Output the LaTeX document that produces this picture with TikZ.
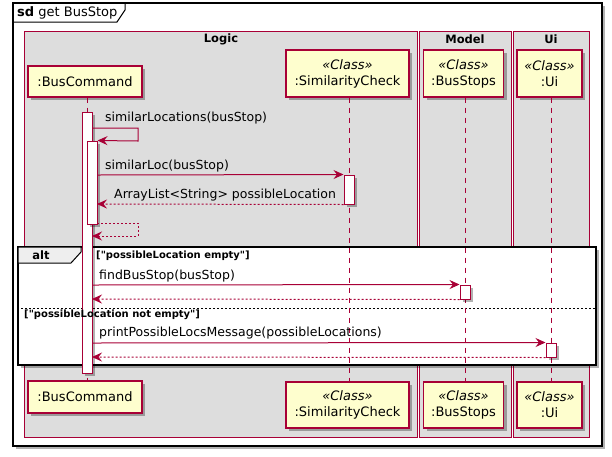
\documentclass[tikz,border=0pt]{standalone}
\usepackage{fontspec}
\setmainfont{DejaVu Sans}
\newfontfamily\gfont{DejaVu Sans}
\usetikzlibrary{arrows.meta,shadows,calc}
\definecolor{pborder}{HTML}{A80036}
\definecolor{pfill}{HTML}{FEFECE}
\definecolor{gfill}{HTML}{DDDDDD}
\definecolor{tabfill}{HTML}{EEEEEE}
\begin{document}
\begin{tikzpicture}[x=1pt,y=-1pt,
  shad/.style={drop shadow={shadow xshift=3pt,shadow yshift=-3pt,opacity=0.3,fill=black}},
  frame/.style={draw=black,line width=1.4pt,fill=white,shad,inner sep=0},
  part/.style={draw=pborder,line width=1.2pt,fill=pfill,shad,inner sep=0,align=center,font=\fontsize{13}{16}\selectfont},
  grp/.style={draw=pborder,line width=0.8pt,fill=gfill,inner sep=0},
  grptitle/.style={font=\bfseries\fontsize{11.5}{14}\selectfont,inner sep=0},
  lifeline/.style={draw=pborder,line width=0.8pt,dash pattern=on 5pt off 5pt},
  actbar/.style={draw=pborder,line width=1pt,fill=white,shad,minimum width=10pt,inner sep=0},
  msg/.style={draw=pborder,line width=1pt,-{Stealth[length=10pt,width=9pt,inset=3.5pt]}},
  ret/.style={msg,dash pattern=on 2pt off 2pt},
  msgtext/.style={font=\fontsize{12.5}{15}\selectfont,anchor=west,inner sep=0},
  guard/.style={font=\gfont\bfseries\fontsize{10}{12}\selectfont,anchor=west,inner sep=0},
]
\useasboundingbox (0,0) rectangle (612,456);

% outer sd frame
\node[frame,minimum width=589pt,minimum height=443pt] (sd) at (307.5,224.5) {};
\draw[line width=1pt] (13,22) -- (117,22) -- (125,10) -- (125,3);
\node[anchor=west,inner sep=0,font=\fontsize{13}{16}\selectfont] (sdlabel) at (17,13) {\textbf{sd} get BusStop};

% groups
\node[grp,minimum width=393pt,minimum height=406pt] (logic) at (220.5,234) {};
\node[grp,minimum width=92pt,minimum height=406pt] (model) at (465,234) {};
\node[grp,minimum width=76pt,minimum height=406pt] (uig) at (551,234) {};
\node[grptitle] (logicT) at (221,39) {Logic};
\node[grptitle] (modelT) at (465,39) {Model};
\node[grptitle] (uiT) at (551,39) {Ui};

% participants top
\node[part,minimum width=114pt,minimum height=31pt] (bcTop) at (85,81.5) {:BusCommand};
\node[part,minimum width=123pt,minimum height=47pt] (scTop) at (347.5,73.5) {{\itshape «Class»}\\:SimilarityCheck};
\node[part,minimum width=80pt,minimum height=47pt] (bsTop) at (463.5,73.5) {{\itshape «Class»}\\:BusStops};
\node[part,minimum width=65pt,minimum height=47pt] (uiTop) at (549.5,73.5) {{\itshape «Class»}\\:Ui};

% participants bottom
\node[part,minimum width=114pt,minimum height=32pt] (bcBot) at (85,397) {:BusCommand};
\node[part,minimum width=123pt,minimum height=46pt] (scBot) at (347.5,405) {{\itshape «Class»}\\:SimilarityCheck};
\node[part,minimum width=80pt,minimum height=46pt] (bsBot) at (463.5,405) {{\itshape «Class»}\\:BusStops};
\node[part,minimum width=65pt,minimum height=46pt] (uiBot) at (549.5,405) {{\itshape «Class»}\\:Ui};

% alt frame
\node[frame,minimum width=578pt,minimum height=118pt] (alt) at (307,306) {};
\draw[line width=1pt,fill=tabfill] (18,247) -- (81,247) -- (81,252) -- (71,263) -- (18,263) -- cycle;
\node[inner sep=0,font=\bfseries\fontsize{11.5}{14}\selectfont] (altT) at (41,255.5) {alt};
\draw[line width=0.8pt,dash pattern=on 2pt off 2pt] (alt.west |- 0,308) -- (alt.east |- 0,308);

% lifelines
\draw[lifeline] ([xshift=2pt]bcTop.south) -- ([xshift=2pt]bcBot.north);
\draw[lifeline] ([xshift=1.5pt]scTop.south) -- ([xshift=1.5pt]scBot.north);
\draw[lifeline] ([xshift=1.5pt]bsTop.south) -- ([xshift=1.5pt]bsBot.north);
\draw[lifeline] ([xshift=1.5pt]uiTop.south) -- ([xshift=1.5pt]uiBot.north);

% activation bars
\node[actbar,minimum height=261pt] (act1) at (87,242.5) {};
\node[actbar,minimum height=83pt] (act2) at (92,182.5) {};
\node[actbar,minimum height=29pt] (act3) at (349,189.5) {};
\node[actbar,minimum height=14pt] (act4) at (465,292) {};
\node[actbar,minimum height=14pt] (act5) at (551,350) {};

% message endpoints
\coordinate (m1a) at (92,128);
\coordinate (m1b) at (138,128);
\coordinate (m1c) at (138,141);
\coordinate (m2a) at (97,175);
\coordinate (m3b) at (97,204);
\coordinate (m4a) at (97,223);
\coordinate (m4b) at (138,223);
\coordinate (m4c) at (138,236);
\coordinate (m4d) at (92,236);
\coordinate (m5a) at (92,285);
\coordinate (m6b) at (92,299);
\coordinate (m7a) at (92,343);
\coordinate (m8b) at (92,357);

% messages
\draw[msg] (m1a) -- (m1b) -- (m1c) -- (act2.north east);
\draw[msg] (m2a) -- (act3.north west);
\draw[ret] (act3.south west) -- (m3b);
\draw[ret] (m4a) -- (m4b) -- (m4c) -- (m4d);
\draw[msg] (m5a) -- (act4.north west);
\draw[ret] (act4.south west) -- (m6b);
\draw[msg] (m7a) -- (act5.north west);
\draw[ret] (act5.south west) -- (m8b);

% labels
\node[msgtext] (l1) at (105,118) {similarLocations(busStop)};
\node[msgtext] (l2) at (105,166) {similarLoc(busStop)};
\node[msgtext] (l3) at (114,195) {ArrayList<String> possibleLocation};
\node[msgtext] (l5) at (99,276.5) {findBusStop(busStop)};
\node[msgtext] (l7) at (99,333) {printPossibleLocsMessage(possibleLocations)};
\node[guard] (g1) at (96,256) {["possibleLocation empty"]};
\node[guard] (g2) at (24,315) {["possibleLocation not empty"]};
\end{tikzpicture}
\end{document}
